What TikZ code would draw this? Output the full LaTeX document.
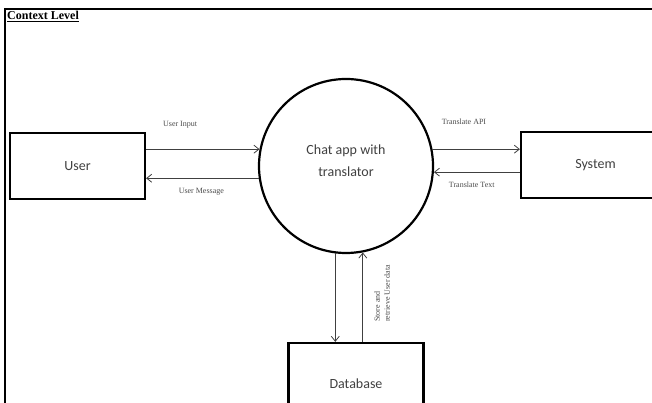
\documentclass[tikz,border=0pt]{standalone}
\usepackage{fontspec}
\setmainfont{Liberation Serif}
\newfontfamily\calibrifont{Carlito}
\usetikzlibrary{arrows.meta,positioning}

\begin{document}
\begin{tikzpicture}[x=1pt, y=1pt,
  entity/.style={draw, line width=2.2pt, minimum width=135pt, minimum height=66pt, font=\calibrifont\fontsize{14}{16}\selectfont, text=black!75},
  flow/.style={-{Straight Barb[length=5pt,width=8pt]}, line width=0.8pt, black!75},
  flowlbl/.style={font=\fontsize{8}{10}\selectfont, text=black!70, inner sep=1pt}]
  \useasboundingbox (0,0) rectangle (652,403);
  % frame of the page
  \coordinate (frametl) at (5,394);
  \coordinate (frametr) at (652,394);
  \coordinate (framebl) at (5,0);
  \draw[line width=1.8pt] (frametl) -- (frametr);
  \draw[line width=2.4pt] ([yshift=0.9pt]frametl) -- (framebl);
  \node[anchor=north west, inner sep=0pt, font=\bfseries\fontsize{12}{14}\selectfont] (title) at (7,392) {\underline{Context Level}};
  % entities and process
  \node[entity] (user) at (77.5,237) {User};
  \node[draw, circle, line width=2.2pt, minimum size=174pt] (chat) at (346,237) {};
  \node[align=center, font=\calibrifont\fontsize{14}{22}\selectfont, text=black!75] (chattxt) at ([yshift=5pt]chat.center) {Chat app with\\translator};
  \node[entity, minimum width=149pt] (system) at (595.5,238) {System};
  \node[entity, minimum height=82pt] (db) at (356,19) {Database};
  % data flows
  \draw[flow] (chat.169.4 -| user.east) -- (chat.169.4) node[flowlbl, pos=0.3, above=20pt] (inlbl) {User Input};
  \draw[flow] (chat.188.6) -- (chat.188.6 -| user.east) node[flowlbl, pos=0.51, below=9pt] (msglbl) {User Message};
  \draw[flow] (chat.11.3) -- (chat.11.3 -| system.west) node[flowlbl, pos=0.36, above=23pt] (apilbl) {Translate API};
  \draw[flow] (chat.356 -| system.west) -- (chat.356) node[flowlbl, pos=0.56, below=8pt] (txtlbl) {Translate Text};
  \draw[flow] (chat.263.4) -- (chat.263.4 |- db.north);
  \draw[flow] (db.north -| chat.281.3) -- (chat.281.3);
  \node[flowlbl, rotate=90, align=left, anchor=north west] (storelbl) at (373,80) {Store and\\retrieve User data};
\end{tikzpicture}
\end{document}
